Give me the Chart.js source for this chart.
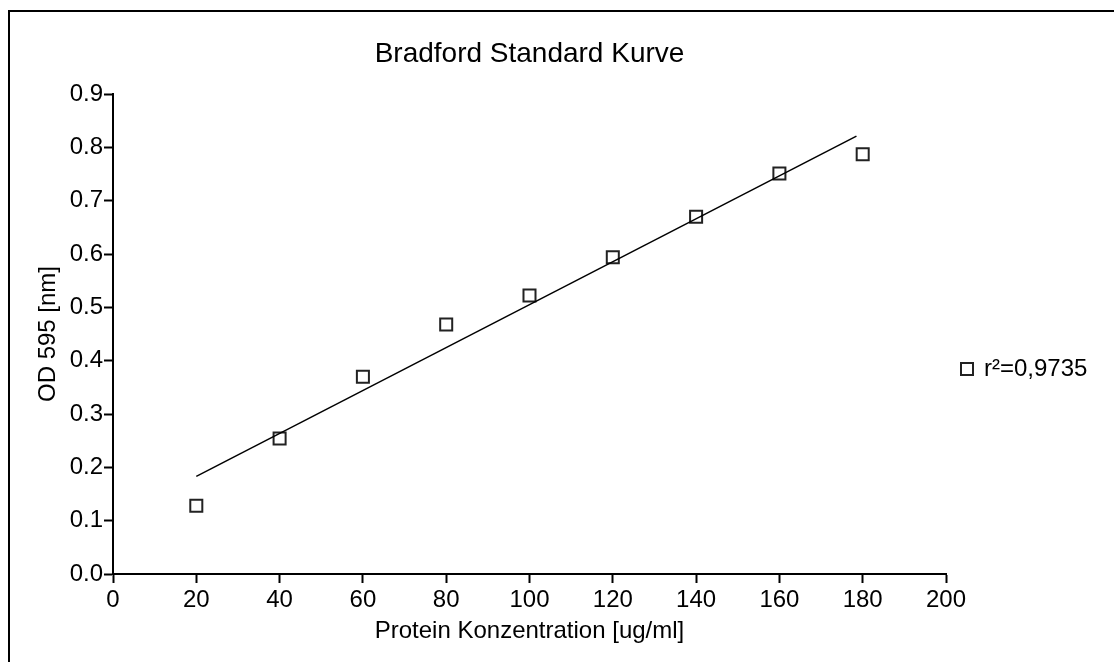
<!DOCTYPE html>
<html><head><meta charset="utf-8">
<script src="https://cdn.jsdelivr.net/npm/chart.js@4.4.0/dist/chart.umd.min.js"></script>
<style>
html,body{margin:0;padding:0;background:#fff;}
#wrap{position:relative;width:1114px;height:662px;overflow:hidden;background:#fff;}
#frame{position:absolute;left:8px;top:10px;width:1200px;height:800px;border-left:2px solid #000;border-top:2px solid #000;}
canvas{position:absolute;left:0;top:0;}
</style></head><body>
<div id="wrap"><div id="frame"></div><canvas id="c" width="1114" height="662"></canvas></div>
<script>
// ---- data ----
const concentrations = [20, 40, 60, 80, 100, 120, 140, 160, 180];
const od595 = [0.128, 0.254, 0.370, 0.468, 0.522, 0.594, 0.670, 0.751, 0.787];
const fitX = [20, 178.5];
const fitY = [0.183, 0.821];
const xTickValues = [0, 20, 40, 60, 80, 100, 120, 140, 160, 180, 200];
const yTickValues = [0.0, 0.1, 0.2, 0.3, 0.4, 0.5, 0.6, 0.7, 0.8, 0.9];
const chartTitle = 'Bradford Standard Kurve';
const xTitle = 'Protein Konzentration [ug/ml]';
const yTitle = 'OD 595 [nm]';
const legendLabel = 'r\u00B2=0,9735';

const FONT = "'Liberation Sans', Arial, sans-serif";

const legendPlugin = {
  id: 'sideLegend',
  afterDraw(chart) {
    const ctx = chart.ctx;
    const ds = chart.data.datasets[0];
    const a = chart.chartArea;
    const cx = a.right + 21, cy = 369;
    ctx.save();
    ctx.strokeStyle = '#222';
    ctx.lineWidth = 2;
    ctx.strokeRect(cx - 6, cy - 6, 12, 12);
    ctx.fillStyle = '#000';
    ctx.font = '24px ' + FONT;
    ctx.textAlign = 'left';
    ctx.textBaseline = 'middle';
    ctx.fillText(ds.label, cx + 17, cy);
    ctx.restore();
  }
};

new Chart(document.getElementById('c'), {
  type: 'scatter',
  data: {
    datasets: [
      {
        label: legendLabel,
        data: concentrations.map((x, i) => ({x: x, y: od595[i]})),
        pointStyle: 'rect',
        pointRadius: 8.5,
        pointBorderWidth: 2,
        pointBorderColor: '#222',
        pointBackgroundColor: 'rgba(0,0,0,0)',
        showLine: false,
        order: 2
      },
      {
        label: 'fit',
        type: 'line',
        data: fitX.map((x, i) => ({x: x, y: fitY[i]})),
        borderColor: '#000',
        borderWidth: 1.5,
        pointRadius: 0,
        fill: false,
        order: 1
      }
    ]
  },
  options: {
    responsive: false,
    animation: false,
    devicePixelRatio: 1,
    layout: {padding: {left: 33, right: 168, top: 10, bottom: 0}},
    plugins: {
      legend: {display: false},
      tooltip: {enabled: false},
      title: {
        display: true, text: chartTitle, fullSize: false, color: '#000',
        font: {family: FONT, size: 28, weight: 'normal'},
        padding: {top: 27, bottom: 23.4}
      }
    },
    scales: {
      x: {
        type: 'linear', min: 0, max: 200,
        afterFit(s) { s.height = 88; },
        afterBuildTicks(s) { s.ticks = xTickValues.map(v => ({value: v})); },
        ticks: {color: '#000', padding: 3, font: {family: FONT, size: 24}, maxRotation: 0},
        grid: {display: true, drawOnChartArea: false, drawTicks: true, tickLength: 9, tickWidth: 2, tickColor: '#000'},
        border: {display: true, color: '#000', width: 2},
        title: {display: true, text: xTitle, color: '#000', font: {family: FONT, size: 24}, padding: {top: 0, bottom: 16}}
      },
      y: {
        type: 'linear', min: 0, max: 0.9,
        afterFit(s) { s.width = 80; },
        afterBuildTicks(s) { s.ticks = yTickValues.map(v => ({value: v})); },
        ticks: {color: '#000', padding: 1, font: {family: FONT, size: 24}, callback: v => Number(v).toFixed(1)},
        grid: {display: true, drawOnChartArea: false, drawTicks: true, tickLength: 9, tickWidth: 2, tickColor: '#000'},
        border: {display: true, color: '#000', width: 2},
        title: {display: true, text: yTitle, color: '#000', font: {family: FONT, size: 24}, padding: {top: 1, bottom: 0}}
      }
    }
  },
  plugins: [legendPlugin]
});
</script>
</body></html>
